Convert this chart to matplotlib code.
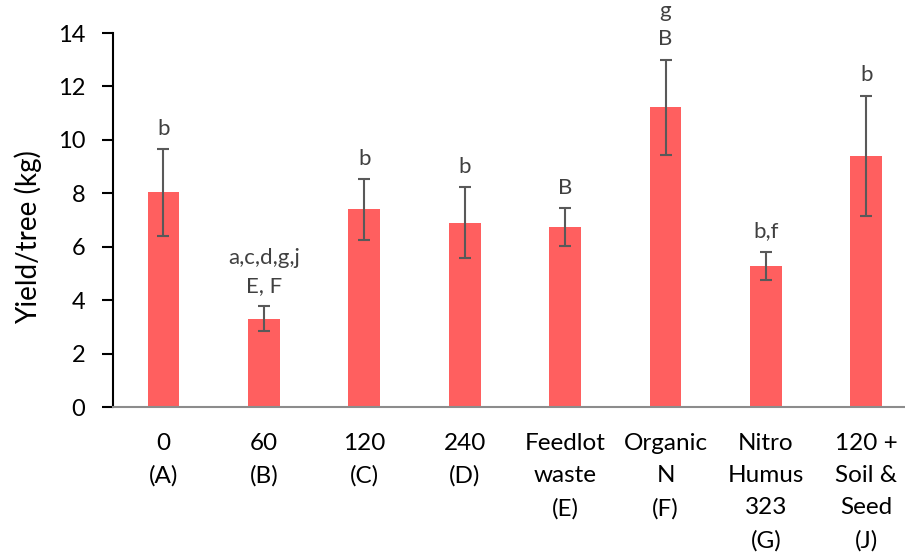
import matplotlib
matplotlib.use("Agg")
import matplotlib.pyplot as plt

# ===== datos =====
categorias = ["0\n(A)", "60\n(B)", "120\n(C)", "240\n(D)", "Feedlot\nwaste\n(E)",
              "Organic\nN\n(F)", "Nitro\nHumus\n323\n(G)", "120 +\nSoil &\nSeed\n(J)"]
rendimiento = [8.04, 3.31, 7.40, 6.91, 6.75, 11.22, 5.30, 9.40]
error = [1.62, 0.47, 1.14, 1.32, 0.70, 1.78, 0.52, 2.26]
letras = ["b", "a,c,d,g,j\nE, F", "b", "b", "B", "g\nB", "b,f", "b"]

plt.rcParams["font.family"] = ["Lato", "DejaVu Sans"]

fig = plt.figure(figsize=(9.05, 5.56), dpi=100)
ax = fig.add_axes([113.2 / 905, (556 - 407.3) / 556, (905 - 113.2) / 905, (407.3 - 33) / 556])

x = range(len(categorias))
ax.bar(x, rendimiento, width=0.316, color="#FF5F5F", zorder=2)
ax.errorbar(x, rendimiento, yerr=error, fmt="none", ecolor="#595959",
            elinewidth=1.5, capsize=4.5, capthick=1.5, zorder=3)

# letras de significancia encima de cada barra
for i, (v, e, t) in enumerate(zip(rendimiento, error, letras)):
    ax.annotate(t, (i, v + e), xytext=(0, 7.5), textcoords="offset points",
                ha="center", va="bottom", fontsize=16, color="#404040",
                linespacing=1.5, annotation_clip=False)

ax.set_ylim(0, 14)
ax.set_xlim(-0.5, 7.385)
ax.set_yticks(range(0, 15, 2))
ax.set_xticks(list(x))
ax.set_xticklabels(categorias, fontsize=17.5, linespacing=1.66, color="#000000")
ax.tick_params(axis="x", length=0, pad=18.5)
ax.tick_params(axis="y", length=8, width=1.5, labelsize=17, pad=12)
ax.set_ylabel("Yield/tree (kg)", fontsize=20)
ax.yaxis.set_label_coords(-0.09, 0.455)

for s in ["top", "right"]:
    ax.spines[s].set_visible(False)
ax.spines["left"].set_linewidth(1.5)
ax.spines["bottom"].set_color("#8C8C8C")
ax.spines["bottom"].set_linewidth(1.5)

fig.savefig("out.png", dpi=100)
plt.close(fig)
